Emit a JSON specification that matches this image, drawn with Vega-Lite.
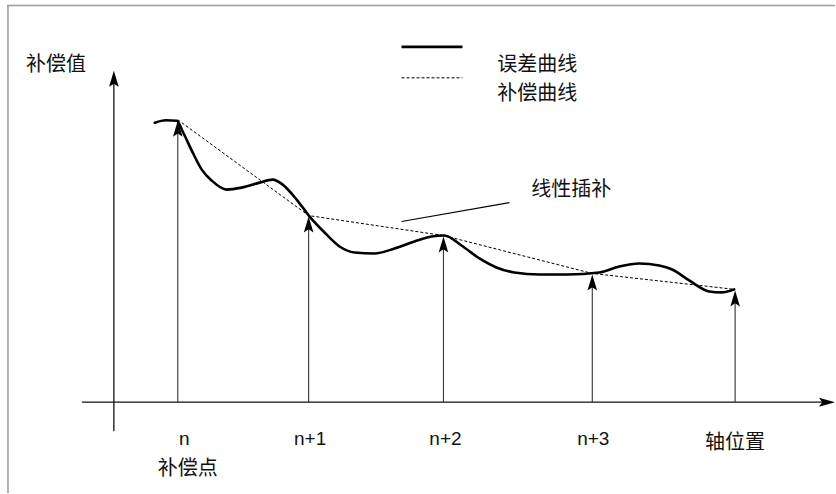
{
  "$schema": "https://vega.github.io/schema/vega-lite/v6.json",
  "width": 836,
  "height": 494,
  "padding": 0,
  "autosize": {"type": "fit", "contains": "padding"},
  "background": "white",
  "config": {"view": {"stroke": null}},
  "datasets": {
    "segments": [
      {"kind": "border", "x": 7, "y": 5.5, "x2": 836, "y2": 5.5},
      {"kind": "border", "x": 8, "y": 5, "x2": 8, "y2": 494},
      {"kind": "axis", "x": 82, "y": 403, "x2": 826, "y2": 403},
      {"kind": "axis", "x": 114, "y": 80, "x2": 114, "y2": 432},
      {"kind": "shaft", "x": 178, "y": 130, "x2": 178, "y2": 403},
      {"kind": "shaft", "x": 309, "y": 226, "x2": 309, "y2": 403},
      {"kind": "shaft", "x": 444, "y": 246, "x2": 444, "y2": 403},
      {"kind": "shaft", "x": 593, "y": 284, "x2": 593, "y2": 403},
      {"kind": "shaft", "x": 736, "y": 300, "x2": 736, "y2": 403},
      {"kind": "leader", "x": 402, "y": 222, "x2": 510, "y2": 203},
      {"kind": "legendSolid", "x": 402, "y": 47, "x2": 463, "y2": 47},
      {"kind": "legendDash", "x": 402, "y": 78, "x2": 463, "y2": 78}
    ],
    "error": [
      {"x": 155, "y": 123}, {"x": 166, "y": 120.5}, {"x": 177, "y": 121},
      {"x": 183, "y": 132}, {"x": 193, "y": 153}, {"x": 202, "y": 170},
      {"x": 212, "y": 181}, {"x": 227, "y": 190}, {"x": 242, "y": 188},
      {"x": 260, "y": 183}, {"x": 273, "y": 180}, {"x": 283, "y": 185},
      {"x": 297, "y": 200}, {"x": 310, "y": 217}, {"x": 325, "y": 233},
      {"x": 340, "y": 247}, {"x": 355, "y": 253}, {"x": 375, "y": 254},
      {"x": 395, "y": 249}, {"x": 415, "y": 242}, {"x": 432, "y": 237},
      {"x": 445, "y": 236}, {"x": 462, "y": 246}, {"x": 480, "y": 259},
      {"x": 497, "y": 268}, {"x": 515, "y": 273}, {"x": 540, "y": 275},
      {"x": 568, "y": 275}, {"x": 600, "y": 273}, {"x": 620, "y": 267},
      {"x": 640, "y": 264}, {"x": 660, "y": 266}, {"x": 673, "y": 270},
      {"x": 690, "y": 281}, {"x": 710, "y": 292}, {"x": 722, "y": 293},
      {"x": 735, "y": 290}
    ],
    "comp": [
      {"x": 178, "y": 120}, {"x": 309, "y": 216}, {"x": 444, "y": 236},
      {"x": 593, "y": 274}, {"x": 736, "y": 290}
    ],
    "arrows": [
      {"dir": "up", "x": 114, "y": 71},
      {"dir": "up", "x": 178, "y": 121},
      {"dir": "up", "x": 309, "y": 217},
      {"dir": "up", "x": 444, "y": 237},
      {"dir": "up", "x": 593, "y": 275},
      {"dir": "up", "x": 736, "y": 291},
      {"dir": "right", "x": 836, "y": 403}
    ],
    "cjk": [
      {"text": "补偿值", "x": 56, "y": 65},
      {"text": "误差曲线", "x": 538, "y": 65},
      {"text": "补偿曲线", "x": 538, "y": 94},
      {"text": "线性插补", "x": 572, "y": 190},
      {"text": "补偿点", "x": 188, "y": 470},
      {"text": "轴位置", "x": 736, "y": 444}
    ],
    "latin": [
      {"text": "n", "x": 184.5, "y": 446},
      {"text": "n+1", "x": 310.5, "y": 446},
      {"text": "n+2", "x": 446, "y": 446},
      {"text": "n+3", "x": 594, "y": 446}
    ]
  },
  "encoding": {
    "x": {"field": "x", "type": "quantitative", "scale": {"domain": [0, 836], "nice": false, "zero": false}, "axis": null},
    "y": {"field": "y", "type": "quantitative", "scale": {"domain": [0, 494], "nice": false, "zero": false, "reverse": true}, "axis": null}
  },
  "layer": [
    {
      "data": {"name": "segments"},
      "transform": [{"filter": "datum.kind === 'border'"}],
      "mark": {"type": "rule", "color": "#9a9a9a", "strokeWidth": 1.5},
      "encoding": {"x2": {"field": "x2"}, "y2": {"field": "y2"}}
    },
    {
      "data": {"name": "segments"},
      "transform": [{"filter": "datum.kind === 'axis'"}],
      "mark": {"type": "rule", "color": "#111111", "strokeWidth": 1.3},
      "encoding": {"x2": {"field": "x2"}, "y2": {"field": "y2"}}
    },
    {
      "data": {"name": "segments"},
      "transform": [{"filter": "datum.kind === 'shaft'"}],
      "mark": {"type": "rule", "color": "#333333", "strokeWidth": 1.1},
      "encoding": {"x2": {"field": "x2"}, "y2": {"field": "y2"}}
    },
    {
      "data": {"name": "segments"},
      "transform": [{"filter": "datum.kind === 'leader' || datum.kind === 'legendSolid'"}],
      "mark": {"type": "rule", "color": "#000000"},
      "encoding": {
        "x2": {"field": "x2"}, "y2": {"field": "y2"},
        "strokeWidth": {"condition": {"test": "datum.kind === 'legendSolid'", "value": 2.6}, "value": 1.1}
      }
    },
    {
      "data": {"name": "segments"},
      "transform": [{"filter": "datum.kind === 'legendDash'"}],
      "mark": {"type": "rule", "color": "#000000", "strokeWidth": 1, "strokeDash": [3, 2]},
      "encoding": {"x2": {"field": "x2"}, "y2": {"field": "y2"}}
    },
    {
      "data": {"name": "comp"},
      "mark": {"type": "line", "color": "#000000", "strokeWidth": 1, "strokeDash": [3, 2]},
      "encoding": {}
    },
    {
      "data": {"name": "error"},
      "mark": {"type": "line", "color": "#000000", "strokeWidth": 2.6, "interpolate": "monotone", "strokeJoin": "round", "strokeCap": "round"},
      "encoding": {}
    },
    {
      "data": {"name": "arrows"},
      "transform": [{"filter": "datum.dir === 'up'"}],
      "mark": {"type": "point", "shape": "M0,0L-0.3,1L0,0.8L0.3,1Z", "filled": true, "color": "#000000", "size": 1024, "opacity": 1, "strokeWidth": 0},
      "encoding": {}
    },
    {
      "data": {"name": "arrows"},
      "transform": [{"filter": "datum.dir === 'right'"}],
      "mark": {"type": "point", "shape": "M0,0L-1,-0.28L-0.8,0L-1,0.28Z", "filled": true, "color": "#000000", "size": 1024, "opacity": 1, "strokeWidth": 0},
      "encoding": {}
    },
    {
      "data": {"name": "cjk"},
      "mark": {"type": "text", "font": "Noto Sans CJK SC", "fontSize": 20, "color": "#111111", "align": "center", "baseline": "middle"},
      "encoding": {"text": {"field": "text"}}
    },
    {
      "data": {"name": "latin"},
      "mark": {"type": "text", "font": "Liberation Sans", "fontSize": 19, "color": "#111111", "align": "center", "baseline": "alphabetic"},
      "encoding": {"text": {"field": "text"}}
    }
  ]
}
